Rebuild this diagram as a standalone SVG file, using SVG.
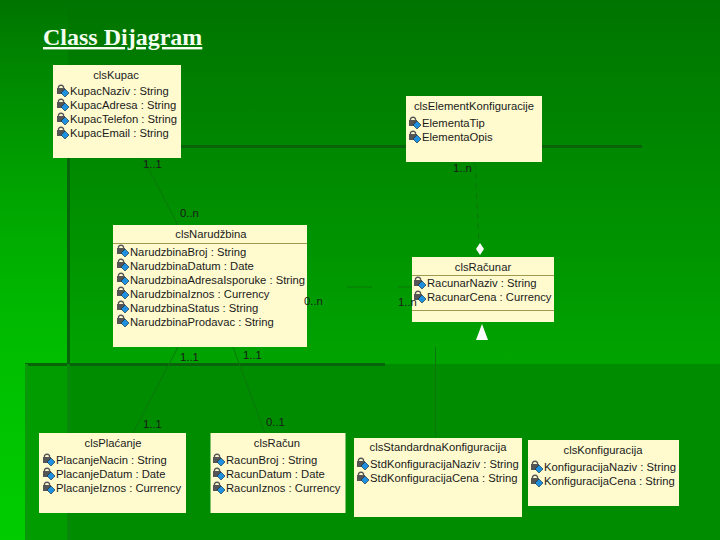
<svg xmlns="http://www.w3.org/2000/svg" width="720" height="540" viewBox="0 0 720 540">
<style>
.box{fill:#fffbcf}
.sep{stroke:#a09a50;stroke-width:1}
.t{font-family:"Liberation Sans",Arial,sans-serif;font-size:11.250px;fill:#1a1a1a}
.m{text-anchor:middle}
.c{fill:none;stroke:#0b780b;stroke-width:1}
.band{fill:#086408}
</style>
<defs>
<linearGradient id="bg" x1="0" y1="0" x2="0" y2="1"><stop offset="0" stop-color="#007400"/><stop offset=".65" stop-color="#00a200"/><stop offset="1" stop-color="#00aa00"/></linearGradient>
<linearGradient id="left" x1="0" y1="0" x2="0" y2="1"><stop offset="0" stop-color="#00cc00" stop-opacity="0"/><stop offset="1" stop-color="#00cc00"/></linearGradient>
<g id="lk">
<rect x="0" y="3" width="8" height="6" fill="#555"/><path d="M1.500 3V1.500Q4 -1 6.500 1.500V3" fill="none" stroke="#555" stroke-width="1.300"/>
<path d="M8 4L12 8L8 12L4 8Z" fill="#1e90e0" stroke="#123" stroke-width=".6"/>
</g>
</defs>
<rect width="720" height="540" fill="url(#bg)"/>
<rect x="0" y="0" width="68" height="540" fill="url(#left)"/>
<rect x="68" y="364" width="652" height="176" fill="#008c00"/>
<rect x="27" y="364" width="41" height="176" fill="#009c00"/>
<g id="bands">
<rect class="band" x="66" y="145" width="576" height="3"/>
<rect class="band" x="67" y="146" width="3" height="218"/>
<rect class="band" x="25" y="363" width="360" height="3"/>
<rect x="25" y="364" width="3" height="176" fill="#089808"/>
<rect x="67" y="364" width="3" height="176" fill="#088808"/>
</g>
<text id="title" x="43" y="45" style="font-family:'Liberation Serif','Times New Roman',serif;font-size:24px;font-weight:bold;fill:#f4fff0;text-decoration:underline">Class Dijagram</text>
<g id="clsKupac"><rect class="box" x="53" y="65" width="128" height="93"/>
<text class="t m" x="116" y="79">clsKupac</text>
<use href="#lk" x="57" y="85"/><use href="#lk" x="57" y="99"/><use href="#lk" x="57" y="113"/><use href="#lk" x="57" y="127"/>
<text class="t" x="70" y="95">KupacNaziv : String</text><text class="t" x="70" y="109">KupacAdresa : String</text><text class="t" x="70" y="123">KupacTelefon : String</text><text class="t" x="70" y="137">KupacEmail : String</text></g>
<g id="clsElementKonfiguracije"><rect class="box" x="406" y="96" width="136" height="66"/>
<text class="t m" x="474" y="110">clsElementKonfiguracije</text>
<use href="#lk" x="409" y="117"/><use href="#lk" x="409" y="131"/>
<text class="t" x="422" y="127">ElementaTip</text><text class="t" x="422" y="141">ElementaOpis</text></g>
<g id="clsRacunar"><rect class="box" x="412" y="257" width="142" height="65"/>
<line class="sep" x1="412" y1="275.500" x2="554" y2="275.500"/><line class="sep" x1="412" y1="310.500" x2="554" y2="310.500"/>
<text class="t m" x="483" y="271">clsRačunar</text>
<use href="#lk" x="414" y="277"/><use href="#lk" x="414" y="291"/>
<text class="t" x="427" y="287">RacunarNaziv : String</text><text class="t" x="427" y="301">RacunarCena : Currency</text></g>
<g id="clsNarudzbina"><rect class="box" x="113" y="225" width="194" height="122"/>
<line class="sep" x1="113" y1="243.500" x2="307" y2="243.500"/>
<text class="t m" x="211" y="238">clsNarudžbina</text>
<use href="#lk" x="117" y="245"/><use href="#lk" x="117" y="259"/><use href="#lk" x="117" y="273"/><use href="#lk" x="117" y="287"/><use href="#lk" x="117" y="301"/><use href="#lk" x="117" y="315"/>
<text class="t" x="130" y="256">NarudzbinaBroj : String</text><text class="t" x="130" y="270">NarudzbinaDatum : Date</text><text class="t" x="130" y="284">NarudzbinaAdresaIsporuke : String</text><text class="t" x="130" y="298">NarudzbinaIznos : Currency</text><text class="t" x="130" y="312">NarudzbinaStatus : String</text><text class="t" x="130" y="326">NarudzbinaProdavac : String</text></g>
<g id="clsPlacanje"><rect class="box" x="39" y="433" width="147" height="80"/>
<text class="t m" x="113" y="447">clsPlaćanje</text>
<use href="#lk" x="43" y="454"/><use href="#lk" x="43" y="468"/><use href="#lk" x="43" y="482"/>
<text class="t" x="56" y="464">PlacanjeNacin : String</text><text class="t" x="56" y="478">PlacanjeDatum : Date</text><text class="t" x="56" y="492">PlacanjeIznos : Currency</text></g>
<g id="clsRacun"><rect class="box" x="210.500" y="433" width="135" height="80"/>
<text class="t m" x="277" y="447">clsRačun</text>
<use href="#lk" x="213" y="454"/><use href="#lk" x="213" y="468"/><use href="#lk" x="213" y="482"/>
<text class="t" x="226" y="464">RacunBroj : String</text><text class="t" x="226" y="478">RacunDatum : Date</text><text class="t" x="226" y="492">RacunIznos : Currency</text></g>
<g id="clsStandardnaKonfiguracija"><rect class="box" x="354" y="438" width="168" height="79"/>
<text class="t m" x="438" y="451">clsStandardnaKonfiguracija</text>
<use href="#lk" x="357" y="458"/><use href="#lk" x="357" y="472"/>
<text class="t" x="370" y="468">StdKonfiguracijaNaziv : String</text><text class="t" x="370" y="482">StdKonfiguracijaCena : String</text></g>
<g id="clsKonfiguracija"><rect class="box" x="528" y="440" width="151" height="66"/>
<text class="t m" x="603" y="454">clsKonfiguracija</text>
<use href="#lk" x="531" y="461"/><use href="#lk" x="531" y="475"/>
<text class="t" x="544" y="471">KonfiguracijaNaziv : String</text><text class="t" x="544" y="485">KonfiguracijaCena : String</text></g>
<g id="connectors">
<path class="c" d="M143 158L178 225"/>
<path class="c" d="M178 347L133 433"/>
<path class="c" d="M233 347L265 433"/>
<path class="c" d="M347 287H372M398 287H412"/>
<path class="c" d="M475 163L479 243" stroke-dasharray="6 4"/>
<path class="c" d="M435.500 347V437"/>
<path d="M480 243L484 249L480 255L476 249Z" fill="#fff"/>
<path d="M482 324L488 340H476Z" fill="#fff"/>
<g class="t">
<text x="143" y="168">1..1</text><text x="180" y="217">0..n</text>
<text x="453" y="172">1..n</text><text x="398" y="306">1..n</text>
<text x="304" y="305">0..n</text><text x="180" y="361">1..1</text>
<text x="243" y="359">1..1</text><text x="143" y="428">1..1</text><text x="266" y="426">0..1</text>
</g>
</g>
</svg>
